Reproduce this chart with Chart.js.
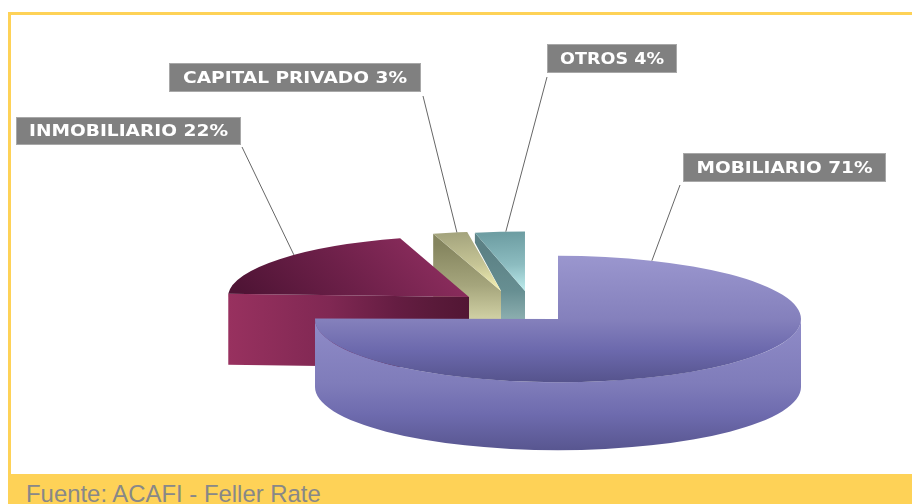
<!DOCTYPE html>
<html>
<head>
<meta charset="utf-8">
<style>
html,body{margin:0;padding:0;background:#fff;width:912px;height:504px;overflow:hidden}
#top{position:absolute;left:8px;right:0;top:12px;height:3px;background:#fed257}
#left{position:absolute;left:8px;top:12px;width:3px;height:462px;background:#fed257}
#foot{position:absolute;left:8px;right:0;top:474px;height:30px;background:#fed257;color:#888;
 font:23.9px "Liberation Sans",Arial,sans-serif;line-height:30px;overflow:hidden}
#foot span{position:absolute;left:18px;top:5px;white-space:nowrap}
canvas{position:absolute;left:0;top:0}
</style>
<script src="https://cdn.jsdelivr.net/npm/chart.js@4"></script>
</head>
<body>
<div id="top"></div><div id="left"></div>
<div id="foot"><span>Fuente: ACAFI - Feller Rate</span></div>
<canvas id="c" width="912" height="504"></canvas>
<script>
const categories = ['MOBILIARIO', 'INMOBILIARIO', 'CAPITAL PRIVADO', 'OTROS'];
const shares = [71, 22, 3, 4];
const footerSource = 'Fuente: ACAFI - Feller Rate';

// Presentation of the exploded 3D pie: where each wedge sits, how it is tilted and fitted.
const wedgeLook = [
  {cx:558, cy:319, sx:1,    sy:.26,  depth:68, turn:0,    stretch:1.0585, leaderAt:.084,
   top:[[558,257,558,383],[0,'#9a96ce'],[.5,'#8480bc'],[.74,'#6c69ad'],[1,'#55538c']],
   wall:[[558,318,558,450],[0,'#908cc8'],[.5,'#7f7cba'],[.73,'#6e6bae'],[1,'#585690']]},
  {cx:469, cy:297, sx:.992, sy:.252, depth:71, turn:17.4, stretch:.889,  leaderAt:.574,
   top:[[235,285,462,272],[0,'#4f1435'],[.5,'#6d2049'],[1,'#8d2d5e']],
   wall:[[228,0,469,0],[0,'#98315f'],[.42,'#802853'],[.7,'#651d42'],[.85,'#5a1a3a'],[1,'#521634']]},
  {cx:501, cy:291, sx:1,    sy:.245, depth:68, turn:9,    stretch:.76,   leaderAt:.7,
   top:[[440,235,500,290],[0,'#a5a57e'],[.55,'#c6c596'],[1,'#f6f2b4']],
   wall:[[0,245,0,318],[0,'#85855f'],[.55,'#a5a57c'],[1,'#cfcfa3']]},
  {cx:525, cy:291, sx:1,    sy:.245, depth:68, turn:2.5,  stretch:.826,  leaderAt:.62, faceReach:24, faceDrop:10,
   top:[[480,235,525,290],[0,'#6e9ea3'],[.55,'#8cbcc0'],[1,'#bcebec']],
   wall:[[0,250,0,318],[0,'#5c8185'],[.6,'#678f92'],[1,'#8aadae']]}
];
const tagBoxes = [
  {x:683,y:153,w:203,h:29,textW:176,lx:680,ly:185},
  {x:16, y:117,w:225,h:28,textW:199,lx:242,ly:147},
  {x:169,y:63, w:252,h:29,textW:224,lx:423,ly:96},
  {x:547,y:44, w:130,h:29,textW:104,lx:547,ly:77}
];

const RAD = Math.PI/180;
function gradient(ctx, spec, map){
  const [p,...stops] = spec;
  const a = map(p[0],p[1]), b = map(p[2],p[3]);
  const g = ctx.createLinearGradient(a[0],a[1],b[0],b[1]);
  stops.forEach(s=>g.addColorStop(s[0],s[1]));
  return g;
}

const pie3d = {
  id:'pie3d',
  beforeDatasetsDraw(chart){
    const ctx = chart.ctx;
    const arcs = chart.getDatasetMeta(0).data;
    const rims = [];
    const order = arcs.map((_,i)=>i).reverse();      // back wedges first
    order.forEach(i=>{
      const arc = arcs[i], L = wedgeLook[i];
      const rawStart = arc.startAngle, rawEnd = arc.endAngle, rawCirc = arc.circumference;
      const start = rawStart + L.turn*RAD;
      const sweep = (rawEnd-rawStart)*L.stretch;
      const end = start + sweep;
      const R = arc.outerRadius;
      const rx = R*L.sx, ry = R*L.sy;
      const rim = a => [L.cx + rx*Math.cos(a), L.cy + ry*Math.sin(a)];

      // cut face on the near side of the wedge
      const startCw = (start + Math.PI/2)/RAD;
      if (startCw > 180 && startCw < 360){
        const r = rim(start);
        ctx.beginPath();
        ctx.moveTo(r[0],r[1]);
        ctx.lineTo(L.cx,L.cy);
        ctx.lineTo(L.cx,L.cy+L.depth);
        if (L.faceReach){
          ctx.lineTo(L.cx-L.faceReach,L.cy+L.depth);
          ctx.lineTo(L.cx-L.faceReach,L.cy);
          ctx.lineTo(r[0],r[1]+L.faceDrop);
        } else {
          ctx.lineTo(r[0],r[1]+L.depth);
        }
        ctx.closePath();
        ctx.fillStyle = gradient(ctx,L.wall,(x,y)=>[x,y]);
        ctx.fill();
      }
      // outer wall on the front half of the ellipse
      const a0 = Math.max(start,0), a1 = Math.min(end,Math.PI);
      if (a1 > a0){
        ctx.beginPath();
        ctx.ellipse(L.cx,L.cy,rx,ry,0,a0,a1,false);
        ctx.ellipse(L.cx,L.cy+L.depth,rx,ry,0,a1,a0,true);
        ctx.closePath();
        ctx.fillStyle = gradient(ctx,L.wall,(x,y)=>[x,y]);
        ctx.fill();
      }
      // top face: the library's own arc element, in a tilted frame
      const toLocal = (x,y)=>[(x-L.cx)/L.sx+arc.x,(y-L.cy)/L.sy+arc.y];
      const savedOpts = arc.options;
      arc.startAngle = start; arc.endAngle = end; arc.circumference = sweep;
      arc.options = Object.assign({},savedOpts,{backgroundColor:gradient(ctx,L.top,toLocal),borderWidth:0});
      ctx.save();
      ctx.translate(L.cx,L.cy);
      ctx.scale(L.sx,L.sy);
      ctx.translate(-arc.x,-arc.y);
      arc.draw(ctx);
      ctx.restore();
      arc.startAngle = rawStart; arc.endAngle = rawEnd; arc.circumference = rawCirc; arc.options = savedOpts;
      rims[i] = rim(start + sweep*L.leaderAt);
    });

    // leader lines and tags
    arcs.forEach((_,i)=>{
      const T = tagBoxes[i], p = rims[i];
      ctx.beginPath();
      ctx.moveTo(T.lx,T.ly);
      ctx.lineTo(p[0],p[1]);
      ctx.lineWidth = 1;
      ctx.strokeStyle = '#666';
      ctx.stroke();
      ctx.fillStyle = '#808080';
      ctx.fillRect(T.x,T.y,T.w,T.h);
      ctx.strokeStyle = '#a8a8a8';
      ctx.strokeRect(T.x+.5,T.y+.5,T.w-1,T.h-1);
      ctx.fillStyle = '#fff';
      ctx.font = 'bold 16px "DejaVu Sans"';
      ctx.textAlign = 'left';
      ctx.textBaseline = 'middle';
      const s = categories[i]+' '+shares[i]+'%';
      const k = T.textW/ctx.measureText(s).width;
      ctx.save();
      ctx.translate(T.x+(T.w-T.textW)/2,T.y+T.h/2+1);
      ctx.scale(k,1);
      ctx.fillText(s,0,0);
      ctx.restore();
    });
    return false;
  }
};

new Chart(document.getElementById('c'),{
  type:'pie',
  data:{labels:categories,datasets:[{data:shares,borderWidth:0,
    backgroundColor:['#7470b4','#7d2856','#b9b98c','#7fa9ac']}]},
  options:{
    responsive:false,animation:false,radius:243,
    events:[],
    plugins:{legend:{display:false},tooltip:{enabled:false},title:{display:false}}
  },
  plugins:[pie3d]
});
</script>
</body>
</html>
